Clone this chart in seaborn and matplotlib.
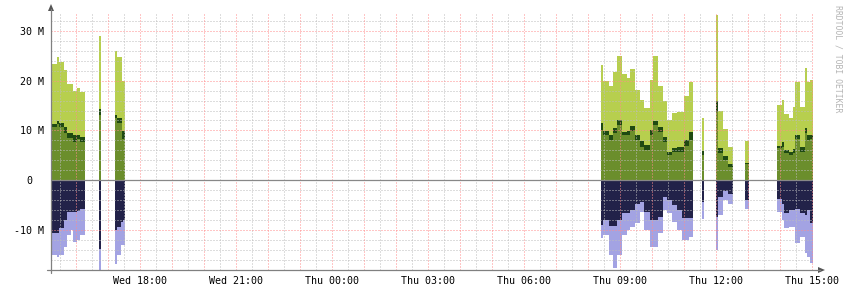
import numpy as np
import matplotlib
matplotlib.use("Agg")
import matplotlib.pyplot as plt
import seaborn as sns
from matplotlib.lines import Line2D
from matplotlib.patches import Polygon
import matplotlib.transforms as mtransforms

N = np.nan

# interval edges in hours since Wed 00:00 (gaps carry NaN values)
edges = [15.22, 15.40, 15.46, 15.63, 15.71, 15.83, 15.92, 16.02, 16.13, 16.28,
         16.72, 16.78,
         17.22, 17.29, 17.40, 17.43, 17.48, 17.53,
         32.41, 32.46, 32.67, 32.79, 32.90, 33.05, 33.21, 33.31, 33.47, 33.63, 33.75,
         33.94, 34.04, 34.20, 34.35, 34.48, 34.62, 34.77, 34.93, 35.00, 35.16, 35.27,
         35.55, 35.63,
         36.00, 36.05, 36.21, 36.38, 36.52,
         36.91, 37.03,
         37.92, 38.05, 38.13, 38.29, 38.42, 38.47, 38.63, 38.78, 38.85, 38.94, 39.04]

# stacked inbound levels (M)
in_total = [23.3, 24.7, 23.8, 22.1, 19.3, 19.3, 18.0, 18.6, 17.8, N,
            29.0, N,
            26.0, 24.7, 24.7, 19.9, 19.9, N,
            23.1, 19.9, 18.9, 21.8, 24.9, 21.3, 20.5, 22.3, 18.1, 16.1, 14.6,
            20.1, 24.9, 18.9, 15.9, 12.1, 13.5, 13.7, 13.7, 16.9, 19.8, N,
            12.5, N,
            33.2, 13.9, 10.2, 6.7, N,
            7.85, N,
            15.1, 16.2, 13.3, 12.4, 14.7, 19.8, 14.7, 22.5, 19.8, 20.1]
in_mid = [11.3, 11.9, 11.4, 10.7, 9.5, 9.5, 9.05, 9.05, 8.7, N,
          14.4, N,
          13.1, 12.4, 12.4, 9.9, 9.9, N,
          11.4, 9.9, 9.05, 10.4, 12.1, 9.7, 9.8, 10.9, 9.05, 7.85, 7.0,
          10.1, 11.9, 10.7, 8.7, 5.7, 6.4, 6.7, 6.7, 8.05, 9.7, N,
          5.8, N,
          15.9, 6.4, 4.8, 3.2, N,
          3.5, N,
          6.8, 7.7, 6.0, 5.7, 6.3, 9.05, 6.7, 10.4, 9.05, 9.05]
in_base = [10.6, 11.3, 10.7, 9.5, 8.4, 8.4, 7.7, 8.2, 7.7, N,
           13.1, N,
           12.4, 11.4, 11.4, 8.2, 8.2, N,
           10.1, 9.05, 8.05, 9.4, 11.1, 9.05, 9.0, 9.9, 8.05, 6.7, 6.0,
           9.05, 11.1, 9.7, 7.7, 5.0, 5.7, 5.7, 5.7, 6.8, 8.05, N,
           5.0, N,
           13.7, 5.4, 4.0, 2.7, N,
           3.2, N,
           6.4, 6.7, 5.5, 5.0, 5.5, 8.2, 5.7, 9.4, 8.05, 8.2]
# stacked outbound levels (M, drawn negative)
out_base = [-10.6, -10.6, -9.7, -8.0, -6.5, -6.5, -6.5, -6.1, -5.7, N,
            -13.9, N,
            -10.1, -9.4, -8.4, -8.4, -8.0, N,
            -9.0, -8.05, -9.3, -9.3, -8.05, -6.6, -6.6, -6.0, -4.7, -4.4, -6.4,
            -8.05, -8.05, -7.4, -3.4, -4.0, -5.0, -6.0, -7.7, -7.7, -7.7, N,
            -4.4, N,
            -7.4, -3.4, -2.1, -2.8, N,
            -4.0, N,
            -3.8, -4.7, -6.6, -6.0, -6.0, -5.7, -6.7, -7.0, -6.0, -8.7]
out_total = [-15.1, -15.4, -15.1, -13.4, -11.1, -10.1, -12.4, -12.0, -11.1, N,
             -18.5, N,
             -16.8, -15.1, -13.1, -13.1, -13.1, N,
             -11.7, -11.1, -15.1, -17.7, -15.1, -11.1, -10.1, -9.4, -8.7, -6.4, -10.1,
             -13.4, -13.4, -10.7, -6.0, -6.6, -8.4, -10.1, -12.1, -12.1, -11.4, N,
             -7.8, N,
             -14.1, -7.0, -4.0, -4.8, N,
             -5.8, N,
             -6.4, -8.05, -9.7, -9.4, -9.4, -12.7, -11.4, -14.7, -15.4, -16.6]

tick_hours = [18, 21, 24, 27, 30, 33, 36, 39]
tick_labels = ["Wed 18:00", "Wed 21:00", "Thu 00:00", "Thu 03:00",
               "Thu 06:00", "Thu 09:00", "Thu 12:00", "Thu 15:00"]
ytick_vals = [-10, 0, 10, 20, 30]
ytick_labels = ["-10 M", "0", "10 M", "20 M", "30 M"]

C_LIGHT = "#b7cf4e"
C_OLIVE = "#6b8e2c"
C_DARK = "#1f4a12"
C_NAVY = "#222249"
C_LAV = "#a3a3e3"

sns.set_theme(style="white")
plt.rcParams["font.family"] = ["DejaVu Sans Mono", "DejaVu Sans"]

W, H = 846, 294
fig = plt.figure(figsize=(W / 100, H / 100), dpi=100)
fig.patch.set_facecolor("white")
ax = fig.add_axes([51 / W, 1 - 270 / H, 762 / W, 257 / H])
ax.set_facecolor("white")
XMIN, XMAX = 15.22, 39.03
YMIN, YMAX = -18.06, 33.6
ax.set_xlim(XMIN, XMAX)
ax.set_ylim(YMIN, YMAX)


def steps(e, v):
    e = np.asarray(e, float)
    v = np.asarray(v, float)
    x = np.column_stack([e[:-1], e[1:]]).ravel()
    y = np.repeat(v, 2)
    return x, y


x, yt = steps(edges, in_total)
_, ym = steps(edges, in_mid)
_, yb = steps(edges, in_base)
_, ob = steps(edges, out_base)
_, ot = steps(edges, out_total)

ax.fill_between(x, 0, yt, color=C_LIGHT, lw=0, zorder=1)
ax.fill_between(x, 0, ym, color=C_DARK, lw=0, zorder=2)
ax.fill_between(x, 0, yb, color=C_OLIVE, lw=0, zorder=3)
ax.fill_between(x, 0, ot, color=C_LAV, lw=0, zorder=1)
ax.fill_between(x, 0, ob, color=C_NAVY, lw=0, zorder=2)

# grid (drawn over data, as rrdtool does)
grid_kw = dict(linestyle=(0, (1, 2)), linewidth=0.72, zorder=5)
MINOR_C = "#bdbdbd"
MAJOR_C = "#ff8c8c"
for h in np.arange(15.5, 39.01, 0.5):
    if abs(h - round(h)) > 1e-6:
        ax.axvline(h, color=MINOR_C, **grid_kw)
for v in range(-16, 33, 2):
    if v % 10 != 0:
        ax.axhline(v, color=MINOR_C, **grid_kw)
for h in range(16, 40):
    ax.axvline(h, color=MAJOR_C, **grid_kw)
for v in [-10, 10, 20, 30]:
    ax.axhline(v, color=MAJOR_C, **grid_kw)
ax.axhline(0, color="#888888", lw=0.9, zorder=6)

for s in ax.spines.values():
    s.set_visible(False)

ax.set_xticks(tick_hours)
ax.set_xticklabels(tick_labels)
ax.set_yticks(ytick_vals)
ax.set_yticklabels(ytick_labels)
ax.tick_params(axis="both", labelsize=7.2, colors="#000000", length=0, pad=4.5)
ax.tick_params(axis="y", pad=5)
for lab in ax.get_yticklabels():
    if lab.get_text() == "0":
        lab.set_transform(lab.get_transform() +
                          mtransforms.ScaledTranslation(-12 / 100, 0, fig.dpi_scale_trans))

# axis lines with arrows (figure pixel coordinates)
def fx(px):
    return px / W


def fy(py):
    return 1 - py / H


axc = "#808080"
fig.add_artist(Line2D([fx(51), fx(51)], [fy(273), fy(9)], color=axc, lw=0.9))
fig.add_artist(Line2D([fx(47), fx(820)], [fy(270), fy(270)], color=axc, lw=0.9))
fig.add_artist(Polygon([[fx(48), fy(11)], [fx(54), fy(11)], [fx(51), fy(4)]],
                       closed=True, color="#555555", lw=0))
fig.add_artist(Polygon([[fx(818), fy(267)], [fx(818), fy(273)], [fx(825), fy(270)]],
                       closed=True, color="#555555", lw=0))

fig.text(fx(837.5), fy(5), "RRDTOOL / TOBI OETIKER", rotation=270,
         ha="center", va="top", fontsize=5.9, color="#b4b4b4")

fig.savefig("out.png", dpi=100, facecolor="white")
